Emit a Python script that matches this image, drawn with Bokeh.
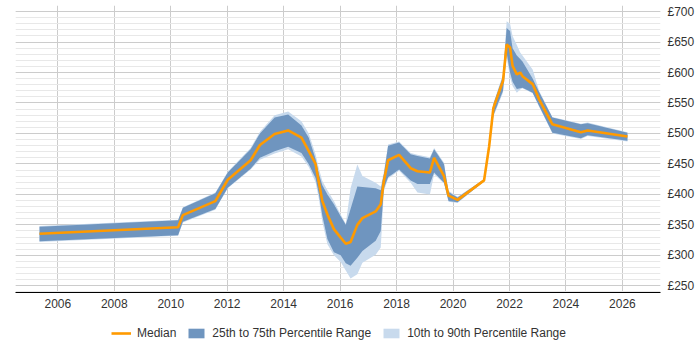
from bokeh.plotting import figure
from bokeh.layouts import column
from bokeh.models import (ColumnDataSource, FixedTicker, PrintfTickFormatter,
                          Range1d, Legend, LegendItem)
from bokeh.embed import file_html
from bokeh.resources import INLINE

# decimal year of each observation
years = [2005.35, 2010.26, 2010.43, 2011.58, 2012.02, 2012.83, 2013.16, 2013.68,
         2014.16, 2014.63, 2014.89, 2015.13, 2015.25, 2015.37, 2015.55, 2015.78,
         2016.02, 2016.20, 2016.37, 2016.61, 2016.79, 2017.26, 2017.44, 2017.55,
         2017.70, 2018.09, 2018.50, 2018.74, 2019.18, 2019.33, 2019.68, 2019.84,
         2020.16, 2021.10, 2021.28, 2021.43, 2021.77, 2021.90, 2022.02, 2022.11,
         2022.26, 2022.38, 2022.46, 2022.82, 2023.05, 2023.52, 2024.53, 2024.77,
         2026.18]
median = [335.5, 346, 366, 389, 424, 456, 481, 499,
          505, 493, 471, 450, 419, 389, 367, 343,
          329, 319, 322, 350, 361, 372, 384, 422,
          456, 465, 443, 438, 436, 460, 430, 398,
          391, 423, 479, 542, 586, 646, 641, 611,
          597, 600, 594, 581, 556, 515, 502, 505,
          495]
p25 = [323, 333, 355, 376, 411, 442, 460, 471,
       478, 468, 449.5, 427, 400, 365, 327, 305,
       300, 287, 283, 296, 307, 324, 340, 410,
       428, 441, 423, 417, 417, 436, 419, 389,
       387, 421, 476, 530, 570, 632, 600, 585,
       573, 574, 575, 567, 545, 501, 492, 497,
       488]
p75 = [347, 357.5, 378, 402, 436, 474, 500, 526,
       531, 513, 493, 458, 433, 415, 400, 384,
       364, 350, 376, 413, 412, 410, 407, 433,
       480, 485, 466, 463, 459, 474, 450, 404,
       395, 425, 482, 548, 594, 673, 668, 640,
       628, 622, 618, 590, 568, 526, 515, 516.7,
       501]
p10 = [322, 332, 354, 375, 410, 441, 457, 467,
       474, 462, 445, 420, 392, 355, 318, 300,
       289, 275, 262, 269, 288, 301, 313, 405,
       426, 439, 419, 403, 400, 433, 418, 388,
       386, 421, 475, 528, 567, 625, 592, 578,
       567, 572, 574, 566, 544, 500, 491, 496,
       487]
p90 = [348, 358.5, 379, 403, 437, 476, 503, 530,
       536, 520, 500, 466, 442, 422, 407, 389,
       367, 352, 410, 449, 430, 419, 413, 437,
       482, 487, 468, 465, 461, 476, 452, 406,
       396, 425, 483, 550, 597, 684, 680, 660,
       645, 633, 628, 605, 570, 527, 516, 518,
       502]

x_ticks = [2006, 2008, 2010, 2012, 2014, 2016, 2018, 2020, 2022, 2024, 2026]
y_ticks = [250, 300, 350, 400, 450, 500, 550, 600, 650, 700]
y_minor = [v for v in range(240, 711, 10)]

series_labels = ["Median", "25th to 75th Percentile Range", "10th to 90th Percentile Range"]

MED_COLOR = "#FF9A00"
IQR_COLOR = "#6F95BF"
DEC_COLOR = "#C8DAED"
FONT = "Liberation Sans"

src = ColumnDataSource(dict(x=years, med=median, p25=p25, p75=p75, p10=p10, p90=p90))

p = figure(width=700, height=322, output_backend="svg",
           toolbar_location=None, y_axis_location="right",
           x_range=Range1d(2004.5, 2027.35), y_range=Range1d(239, 710),
           min_border_left=15, min_border_right=40, min_border_top=5,
           min_border_bottom=30)
p.outline_line_color = None
p.background_fill_color = "white"
p.border_fill_color = "white"

p.varea(x="x", y1="p10", y2="p90", source=src, fill_color=DEC_COLOR)
p.varea(x="x", y1="p25", y2="p75", source=src, fill_color=IQR_COLOR)
p.line(x="x", y="med", source=src, line_color=MED_COLOR, line_width=2.6)

p.xaxis.ticker = FixedTicker(ticks=x_ticks)
p.xaxis.formatter = PrintfTickFormatter(format="%d")
p.yaxis.ticker = FixedTicker(ticks=y_ticks, minor_ticks=y_minor)
p.yaxis.formatter = PrintfTickFormatter(format="£%d")

for ax in (p.xaxis[0], p.yaxis[0]):
    ax.major_tick_line_color = None
    ax.minor_tick_line_color = None
    ax.major_tick_out = 0
    ax.minor_tick_out = 0
    ax.major_label_text_font = FONT
    ax.major_label_text_font_size = "12px"
    ax.major_label_text_color = "#333333"
p.xaxis.axis_line_color = "#000000"
p.xaxis.axis_line_width = 1
p.xaxis.major_label_standoff = 6
p.yaxis.axis_line_color = None
p.yaxis.major_label_standoff = 7

p.xgrid.grid_line_color = "#cccccc"
p.ygrid.grid_line_color = "#cccccc"
p.ygrid.minor_grid_line_color = "#e8e8e8"

# legend strip below the chart
lg = figure(width=700, height=28, output_backend="svg", toolbar_location=None,
            x_range=Range1d(0, 1), y_range=Range1d(0, 1),
            min_border=0, min_border_left=0, min_border_right=0,
            min_border_top=0, min_border_bottom=0)
lg.axis.visible = False
lg.grid.visible = False
lg.outline_line_color = None
dummy = ColumnDataSource(dict(x=[-10, -9], y1=[-10, -10], y2=[-9, -9]))
lm = lg.line(x="x", y="y1", source=dummy, line_color=MED_COLOR, line_width=2.6)
l25 = lg.varea(x="x", y1="y1", y2="y2", source=dummy, fill_color=IQR_COLOR)
l10 = lg.varea(x="x", y1="y1", y2="y2", source=dummy, fill_color=DEC_COLOR)

legend = Legend(items=[
    LegendItem(label=series_labels[0], renderers=[lm]),
    LegendItem(label=series_labels[1], renderers=[l25]),
    LegendItem(label=series_labels[2], renderers=[l10]),
], orientation="horizontal", location=(96, 10))
legend.border_line_color = None
legend.background_fill_alpha = 0
legend.label_text_font = FONT
legend.label_text_font_size = "12px"
legend.label_text_color = "#333333"
legend.glyph_width = 20
legend.glyph_height = 12
legend.label_standoff = 6
legend.spacing = 10
legend.padding = 0
legend.margin = 0
lg.add_layout(legend, "center")

layout = column(p, lg, spacing=0)
open("out.html", "w").write(file_html(layout, INLINE))
